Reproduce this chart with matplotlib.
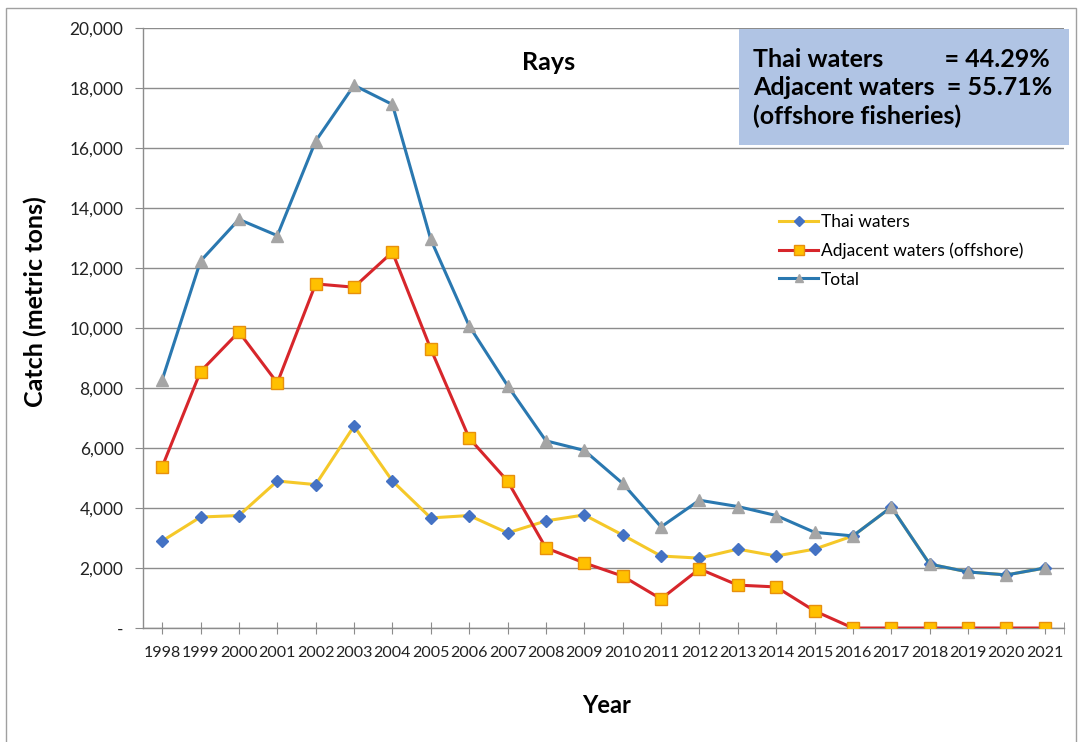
import matplotlib.pyplot as plt
from matplotlib.patches import Rectangle
from matplotlib.ticker import FuncFormatter

plt.rcParams['font.family'] = ['Lato', 'DejaVu Sans']

years = list(range(1998, 2022))

thai = [2900, 3700, 3750, 4900, 4780, 6730, 4900, 3670, 3750, 3170,
        3570, 3770, 3100, 2400, 2330, 2630, 2400, 2630, 3070, 4030,
        2130, 1870, 1770, 2000]
adjacent = [5370, 8550, 9870, 8170, 11470, 11360, 12530, 9300, 6330, 4900,
            2670, 2170, 1730, 970, 1970, 1430, 1370, 570, 0, 0,
            0, 0, 0, 0]
total = [8270, 12230, 13620, 13080, 16230, 18090, 17450, 12950, 10070, 8080,
         6240, 5920, 4820, 3370, 4260, 4050, 3750, 3190, 3070, 4030,
         2130, 1870, 1770, 2000]

share_text = ("Thai waters          = 44.29%\n"
              "Adjacent waters  = 55.71%\n"
              "(offshore fisheries)")

fig = plt.figure(figsize=(10.79, 7.42), dpi=100)
ax = fig.add_axes([0.1325, 0.1536, 0.8536, 0.8087])

# outer chart frame
fig.patches.append(Rectangle((0.0056, -0.01), 0.992, 0.9992, transform=fig.transFigure,
                             fill=False, edgecolor='#a0a0a0', linewidth=1.0))

ax.plot(years, thai, color='#f5c829', linewidth=2.2, marker='D', markersize=6,
        markerfacecolor='#4472c4', markeredgecolor='#4472c4', label='Thai waters', zorder=3)
ax.plot(years, adjacent, color='#d7262b', linewidth=2.2, marker='s', markersize=9,
        markerfacecolor='#ffc000', markeredgecolor='#e8900c', markeredgewidth=1.0,
        label='Adjacent waters (offshore)', zorder=4)
ax.plot(years, total, color='#2a78b0', linewidth=2.2, marker='^', markersize=8,
        markerfacecolor='#a5a5a5', markeredgecolor='#a5a5a5', label='Total', zorder=5)

ax.set_xlim(1997.5, 2021.5)
ax.set_ylim(0, 20000)
ax.set_xticks(years)
ax.set_xticks([2021.5], minor=True)
ax.set_yticks(range(0, 20001, 2000))
ax.yaxis.set_major_formatter(FuncFormatter(lambda v, p: '-' if v == 0 else f'{int(v):,}'))
ax.grid(axis='y', color='#8c8c8c', linewidth=1.0)
ax.set_axisbelow(True)

for s in ['top', 'right']:
    ax.spines[s].set_visible(False)
for s in ['left', 'bottom']:
    ax.spines[s].set_color('#8c8c8c')
    ax.spines[s].set_linewidth(1.0)

ax.tick_params(axis='x', which='both', direction='inout', length=8, color='#8c8c8c',
               labelsize=11.5, pad=9, labelcolor='#222222')
ax.tick_params(axis='y', direction='out', length=6, color='#8c8c8c', labelsize=12.5,
               pad=8, labelcolor='#222222')

ax.set_xlabel('Year', fontsize=17, fontweight='bold', va='center')
ax.xaxis.set_label_coords(0.5038, -0.1283)
ax.set_ylabel('Catch (metric tons)', fontsize=18, fontweight='bold', va='center')
ax.yaxis.set_label_coords(-0.1173, 0.5433)

ax.text(0.4408, 0.943, 'Rays', transform=ax.transAxes, fontsize=18, fontweight='bold',
        ha='center', va='center')

# share box in the upper right
fig.patches.append(Rectangle((0.6849, 0.8046), 0.3058, 0.1563, transform=fig.transFigure,
                             facecolor='#b0c4e4', edgecolor='none', zorder=6))
fig.text(0.6979, 0.8814, share_text, fontsize=18, fontweight='bold', ha='left',
         va='center', linespacing=1.27, zorder=7)

ax.legend(loc='upper left', bbox_to_anchor=(0.722, 0.7116), bbox_transform=fig.transFigure,
          frameon=False, fontsize=12.5, borderpad=0, borderaxespad=0,
          handlelength=2.25, labelspacing=0.72, handletextpad=0.15, markerscale=0.8)

fig.savefig('out.png', dpi=100)
